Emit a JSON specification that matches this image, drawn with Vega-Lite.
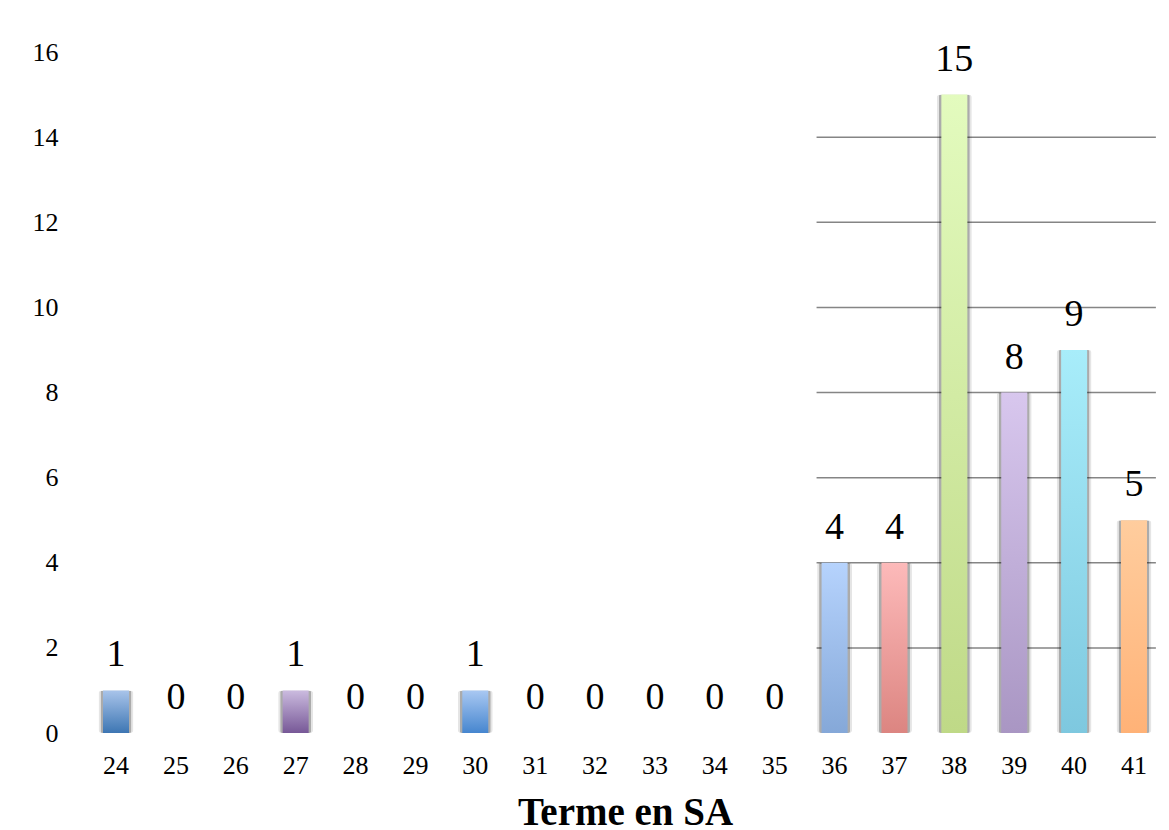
{
  "$schema": "https://vega.github.io/schema/vega-lite/v6.json",
  "width": 1078,
  "height": 681,
  "autosize": {"type": "none"},
  "padding": {"left": 86, "top": 52, "right": 5, "bottom": 97},
  "background": "white",
  "config": {"view": {"stroke": null}, "font": "Liberation Serif"},
  "datasets": {
    "counts": [
      {"terme": "24", "n": 1}, {"terme": "25", "n": 0}, {"terme": "26", "n": 0},
      {"terme": "27", "n": 1}, {"terme": "28", "n": 0}, {"terme": "29", "n": 0},
      {"terme": "30", "n": 1}, {"terme": "31", "n": 0}, {"terme": "32", "n": 0},
      {"terme": "33", "n": 0}, {"terme": "34", "n": 0}, {"terme": "35", "n": 0},
      {"terme": "36", "n": 4}, {"terme": "37", "n": 4}, {"terme": "38", "n": 15},
      {"terme": "39", "n": 8}, {"terme": "40", "n": 9}, {"terme": "41", "n": 5}
    ],
    "grid": [
      {"level": 2, "from": "36", "to": "41"}, {"level": 4, "from": "36", "to": "41"},
      {"level": 6, "from": "36", "to": "41"}, {"level": 8, "from": "36", "to": "41"},
      {"level": 10, "from": "36", "to": "41"}, {"level": 12, "from": "36", "to": "41"},
      {"level": 14, "from": "36", "to": "41"}
    ]
  },
  "encoding": {
    "x": {
      "field": "terme", "type": "ordinal",
      "scale": {"domain": ["24","25","26","27","28","29","30","31","32","33","34","35","36","37","38","39","40","41"], "paddingInner": 0.57, "paddingOuter": 0.286},
      "axis": {"title": "Terme en SA", "titleFontSize": 39, "titleFontWeight": "bold", "titleColor": "#000", "titlePadding": 15, "labelAngle": 0, "labelFontSize": 26, "labelColor": "#000", "labelPadding": 19, "ticks": false, "domain": false}
    },
    "y": {
      "field": "n", "type": "quantitative",
      "scale": {"domain": [0, 16], "nice": false},
      "axis": {"title": null, "values": [0,2,4,6,8,10,12,14,16], "grid": false, "ticks": false, "domain": false, "labelFontSize": 26, "labelColor": "#000", "labelPadding": 28}
    }
  },
  "layer": [
    {
      "data": {"name": "grid"},
      "mark": {"type": "rule", "color": "#858585", "strokeWidth": 1.5},
      "encoding": {
        "x": {"field": "from", "type": "ordinal", "bandPosition": -0.2},
        "x2": {"field": "to", "bandPosition": 1.35},
        "y": {"field": "level", "type": "quantitative"}
      }
    },
    {
      "data": {"name": "counts"},
      "mark": {"type": "bar", "color": "#000000", "opacity": 0.1, "width": 35, "cornerRadius": 3}
    },
    {
      "data": {"name": "counts"},
      "mark": {"type": "bar", "color": "#000000", "opacity": 0.25, "width": 31, "cornerRadius": 2}
    },
    {
      "data": {"name": "counts"}, "transform": [{"filter": "datum.terme == '24'"}],
      "mark": {"type": "bar", "width": 26, "color": {"gradient": "linear", "x1": 0, "y1": 0, "x2": 0, "y2": 1, "stops": [{"offset": 0, "color": "#a9c4ea"}, {"offset": 1, "color": "#3d76b3"}]}}
    },
    {
      "data": {"name": "counts"}, "transform": [{"filter": "datum.terme == '27'"}],
      "mark": {"type": "bar", "width": 26, "color": {"gradient": "linear", "x1": 0, "y1": 0, "x2": 0, "y2": 1, "stops": [{"offset": 0, "color": "#cbbbdf"}, {"offset": 1, "color": "#775897"}]}}
    },
    {
      "data": {"name": "counts"}, "transform": [{"filter": "datum.terme == '30'"}],
      "mark": {"type": "bar", "width": 26, "color": {"gradient": "linear", "x1": 0, "y1": 0, "x2": 0, "y2": 1, "stops": [{"offset": 0, "color": "#a9c8f2"}, {"offset": 1, "color": "#4686cf"}]}}
    },
    {
      "data": {"name": "counts"}, "transform": [{"filter": "datum.terme == '36'"}],
      "mark": {"type": "bar", "width": 26, "color": {"gradient": "linear", "x1": 0, "y1": 0, "x2": 0, "y2": 1, "stops": [{"offset": 0, "color": "#b6d3fd"}, {"offset": 1, "color": "#85a8d8"}]}}
    },
    {
      "data": {"name": "counts"}, "transform": [{"filter": "datum.terme == '37'"}],
      "mark": {"type": "bar", "width": 26, "color": {"gradient": "linear", "x1": 0, "y1": 0, "x2": 0, "y2": 1, "stops": [{"offset": 0, "color": "#fdbaba"}, {"offset": 1, "color": "#dc8581"}]}}
    },
    {
      "data": {"name": "counts"}, "transform": [{"filter": "datum.terme == '38'"}],
      "mark": {"type": "bar", "width": 26, "color": {"gradient": "linear", "x1": 0, "y1": 0, "x2": 0, "y2": 1, "stops": [{"offset": 0, "color": "#e3fbbe"}, {"offset": 1, "color": "#bfd987"}]}}
    },
    {
      "data": {"name": "counts"}, "transform": [{"filter": "datum.terme == '39'"}],
      "mark": {"type": "bar", "width": 26, "color": {"gradient": "linear", "x1": 0, "y1": 0, "x2": 0, "y2": 1, "stops": [{"offset": 0, "color": "#d8c7ee"}, {"offset": 1, "color": "#a996c3"}]}}
    },
    {
      "data": {"name": "counts"}, "transform": [{"filter": "datum.terme == '40'"}],
      "mark": {"type": "bar", "width": 26, "color": {"gradient": "linear", "x1": 0, "y1": 0, "x2": 0, "y2": 1, "stops": [{"offset": 0, "color": "#a8edfa"}, {"offset": 1, "color": "#7ec8df"}]}}
    },
    {
      "data": {"name": "counts"}, "transform": [{"filter": "datum.terme == '41'"}],
      "mark": {"type": "bar", "width": 26, "color": {"gradient": "linear", "x1": 0, "y1": 0, "x2": 0, "y2": 1, "stops": [{"offset": 0, "color": "#ffcd9e"}, {"offset": 1, "color": "#ffb277"}]}}
    },
    {
      "data": {"name": "counts"},
      "mark": {"type": "text", "fontSize": 38, "color": "#000", "baseline": "alphabetic", "dy": -24},
      "encoding": {
        "text": {"field": "n", "type": "quantitative"}
      }
    }
  ]
}
